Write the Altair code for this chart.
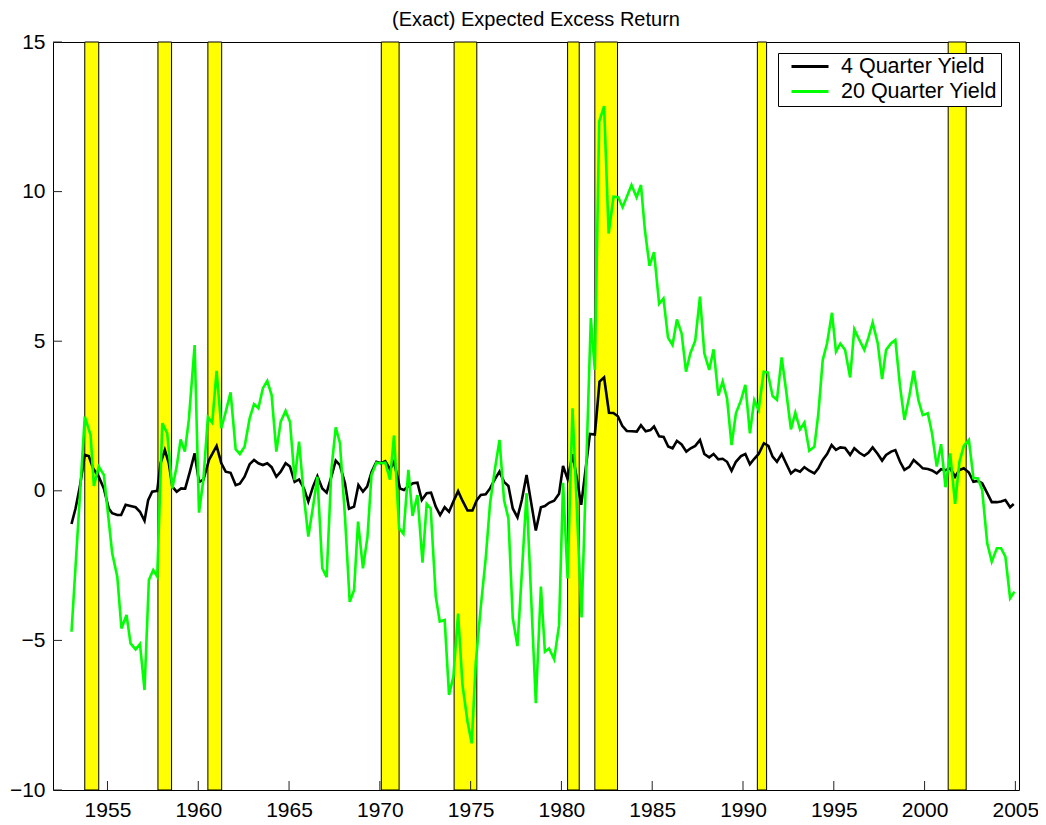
import altair as alt
import pandas as pd

# 20 quarter yield (green)
g_year = [1953.02, 1953.75, 1954.07, 1954.25, 1954.52, 1954.8, 1955.26, 1955.54, 1955.77, 1956.05,
          1956.27, 1956.55, 1956.79, 1957.04, 1957.28, 1957.52, 1957.74, 1958.02, 1958.29, 1958.57,
          1958.81, 1959.03, 1959.26, 1959.48, 1959.8, 1960.04, 1960.28, 1960.53, 1960.77, 1961.01,
          1961.27, 1961.51, 1961.78, 1962.06, 1962.29, 1962.55, 1962.83, 1963.07, 1963.31, 1963.56,
          1963.8, 1964.04, 1964.3, 1964.54, 1964.81, 1965.05, 1965.31, 1965.55, 1965.82, 1966.06,
          1966.32, 1966.56, 1966.83, 1967.07, 1967.33, 1967.57, 1967.8, 1968.08, 1968.34, 1968.58,
          1968.8, 1969.07, 1969.32, 1969.54, 1969.81, 1970.05, 1970.3, 1970.56, 1970.78, 1971.06,
          1971.3, 1971.57, 1971.8, 1972.07, 1972.35, 1972.58, 1972.8, 1973.08, 1973.3, 1973.57,
          1973.81, 1974.05, 1974.31, 1974.55, 1974.83, 1975.06, 1975.28, 1975.56, 1975.83, 1976.07,
          1976.33, 1976.59, 1976.84, 1977.08, 1977.32, 1977.58, 1978.08, 1978.59, 1978.87, 1979.09,
          1979.32, 1979.6, 1979.87, 1980.09, 1980.34, 1980.61, 1981.11, 1981.62, 1981.84, 1982.08,
          1982.35, 1982.6, 1982.87, 1983.13, 1983.37, 1983.62, 1983.86, 1984.14, 1984.38, 1984.6,
          1984.85, 1985.1, 1985.38, 1985.62, 1985.87, 1986.12, 1986.36, 1986.62, 1986.86, 1987.1,
          1987.37, 1987.63, 1987.87, 1988.14, 1988.38, 1988.64, 1988.88, 1989.12, 1989.37, 1989.61,
          1989.89, 1990.13, 1990.38, 1990.62, 1990.86, 1991.14, 1991.36, 1991.63, 1991.87, 1992.13,
          1992.37, 1992.64, 1992.88, 1993.14, 1993.38, 1993.65, 1993.93, 1994.15, 1994.39, 1994.63,
          1994.9, 1995.12, 1995.36, 1995.62, 1995.9, 1996.13, 1996.41, 1996.68, 1996.9, 1997.14,
          1997.42, 1997.66, 1997.88, 1998.16, 1998.39, 1998.65, 1998.89, 1999.16, 1999.4, 1999.66,
          1999.9, 2000.18, 2000.41, 2000.67, 2000.91, 2001.15, 2001.41, 2001.68, 2001.92, 2002.16,
          2002.44, 2002.69, 2002.93, 2003.17, 2003.45, 2003.7, 2003.98, 2004.21, 2004.45, 2004.71,
          2004.95]
g_val = [-4.71, 2.48, 1.86, 0.16, 0.81, 0.53, -2.09, -2.87, -4.6, -4.15,
         -5.1, -5.3, -5.12, -6.66, -2.98, -2.65, -2.87, 2.26, 1.92, 0.08,
         0.81, 1.72, 1.31, 2.37, 4.87, -0.73, 0.36, 2.46, 2.28, 4.01,
         2.09, 2.64, 3.29, 1.39, 1.23, 1.47, 2.42, 2.9, 2.76, 3.43,
         3.67, 3.2, 1.31, 2.31, 2.67, 2.31, 0.36, 1.64, -0.2, -1.53,
         -0.53, 0.47, -2.59, -2.89, 0.7, 2.12, 1.61, -0.87, -3.71, -3.32,
         -1.03, -2.59, -1.53, 0.53, 0.94, 0.92, 0.94, 0.37, 1.85, -1.25,
         -1.44, 0.7, -0.84, -0.14, -2.4, -0.44, -0.59, -3.54, -4.37, -4.32,
         -6.82, -6.21, -4.1, -6.49, -7.72, -8.44, -5.77, -3.87, -2.26, -0.42,
         0.7, 1.7, -0.31, -0.92, -4.26, -5.19, -0.08, -7.1, -3.2, -5.38,
         -5.27, -5.63, -4.49, 0.27, -2.93, 2.76, -4.23, 5.77, 4.04, 12.34,
         12.86, 8.6, 9.83, 9.81, 9.48, 9.85, 10.22, 9.81, 10.22, 8.7,
         7.52, 7.98, 6.25, 6.43, 5.12, 4.87, 5.73, 5.26, 3.98, 4.6,
         5.02, 6.49, 4.6, 4.04, 4.73, 3.18, 3.65, 3.09, 1.53, 2.59,
         3.03, 3.54, 1.92, 3.03, 2.7, 3.98, 3.96, 3.17, 3.04, 4.46,
         3.37, 2.05, 2.61, 2.05, 2.28, 1.34, 1.47, 2.59, 4.37, 4.93,
         5.95, 4.65, 4.92, 4.71, 3.79, 5.4, 5.04, 4.71, 5.1, 5.62,
         4.93, 3.73, 4.71, 4.93, 5.04, 3.48, 2.37, 3.17, 4.01, 3.03,
         2.53, 2.59, 1.92, 0.81, 1.56, 0.12, 1.25, -0.44, 0.97, 1.5,
         1.7, 0.42, 0.42, 0.03, -1.75, -2.37, -1.92, -1.92, -2.2, -3.59,
         -3.37]

# 4 quarter yield (black)
b_year = [1953.02, 1953.24, 1953.48, 1953.75, 1953.97, 1954.21, 1954.52, 1954.8, 1955.07, 1955.26,
          1955.54, 1955.75, 1956.0, 1956.27, 1956.55, 1956.79, 1957.04, 1957.24, 1957.46, 1957.74,
          1957.92, 1958.16, 1958.38, 1958.57, 1958.81, 1959.06, 1959.28, 1959.54, 1959.8, 1960.04,
          1960.28, 1960.59, 1961.01, 1961.27, 1961.51, 1961.78, 1962.06, 1962.29, 1962.55, 1962.83,
          1963.07, 1963.31, 1963.56, 1963.8, 1964.04, 1964.3, 1964.54, 1964.81, 1965.05, 1965.31,
          1965.55, 1965.82, 1966.06, 1966.32, 1966.56, 1966.83, 1967.07, 1967.33, 1967.57, 1967.8,
          1968.08, 1968.3, 1968.58, 1968.82, 1969.07, 1969.3, 1969.55, 1969.81, 1970.07, 1970.3,
          1970.56, 1970.78, 1971.11, 1971.33, 1971.57, 1971.82, 1972.07, 1972.31, 1972.58, 1972.82,
          1973.08, 1973.32, 1973.57, 1973.81, 1974.05, 1974.31, 1974.55, 1974.83, 1975.1, 1975.34,
          1975.56, 1975.83, 1976.07, 1976.33, 1976.59, 1976.84, 1977.08, 1977.32, 1977.58, 1977.82,
          1978.08, 1978.34, 1978.59, 1978.87, 1979.09, 1979.32, 1979.6, 1979.87, 1980.09, 1980.34,
          1980.62, 1981.09, 1981.57, 1981.84, 1982.1, 1982.35, 1982.62, 1982.86, 1983.11, 1983.35,
          1983.6, 1983.88, 1984.15, 1984.38, 1984.64, 1984.9, 1985.1, 1985.38, 1985.63, 1985.88,
          1986.12, 1986.36, 1986.62, 1986.88, 1987.12, 1987.37, 1987.63, 1987.87, 1988.14, 1988.38,
          1988.64, 1988.88, 1989.12, 1989.37, 1989.61, 1989.89, 1990.13, 1990.38, 1990.62, 1990.86,
          1991.15, 1991.4, 1991.63, 1991.87, 1992.13, 1992.37, 1992.64, 1992.88, 1993.14, 1993.38,
          1993.65, 1993.93, 1994.15, 1994.39, 1994.63, 1994.88, 1995.12, 1995.36, 1995.62, 1995.9,
          1996.13, 1996.41, 1996.68, 1996.9, 1997.14, 1997.42, 1997.66, 1997.88, 1998.16, 1998.39,
          1998.65, 1998.89, 1999.16, 1999.4, 1999.66, 1999.9, 2000.18, 2000.41, 2000.67, 2000.91,
          2001.15, 2001.41, 2001.68, 2001.92, 2002.16, 2002.44, 2002.69, 2002.93, 2003.17, 2003.45,
          2003.7, 2003.98, 2004.21, 2004.45, 2004.71, 2004.91]
b_val = [-1.11, -0.59, 0.14, 1.2, 1.16, 0.75, 0.47, 0.08, -0.59, -0.75,
         -0.81, -0.81, -0.47, -0.51, -0.55, -0.7, -1.0, -0.31, -0.03, 0.0,
         0.92, 1.36, 0.92, 0.14, -0.03, 0.08, 0.07, 0.64, 1.25, 0.3,
         0.36, 1.03, 1.5, 0.92, 0.64, 0.6, 0.19, 0.24, 0.47, 0.89,
         1.03, 0.92, 0.86, 0.92, 0.79, 0.47, 0.64, 0.92, 0.81, 0.3,
         0.38, 0.08, -0.36, 0.14, 0.49, 0.08, -0.06, 0.47, 1.01, 0.86,
         0.25, -0.6, -0.53, 0.19, -0.03, 0.14, 0.64, 0.97, 0.92, 0.99,
         0.72, 0.97, 0.08, 0.03, 0.16, 0.25, 0.27, -0.31, -0.08, -0.06,
         -0.53, -0.81, -0.55, -0.7, -0.36, -0.01, -0.33, -0.66, -0.66, -0.31,
         -0.14, -0.12, 0.08, 0.38, 0.64, 0.3, 0.16, -0.59, -0.89, -0.31,
         0.53, -0.42, -1.33, -0.55, -0.51, -0.4, -0.33, -0.1, 0.83, 0.4,
         1.22, -0.47, 1.9, 1.88, 3.65, 3.79, 2.61, 2.6, 2.49, 2.17,
         2.0, 1.99, 1.98, 2.19, 1.99, 2.03, 2.15, 1.82, 1.8, 1.48,
         1.42, 1.67, 1.55, 1.31, 1.42, 1.5, 1.7, 1.23, 1.12, 1.23,
         1.05, 1.07, 0.97, 0.67, 0.97, 1.16, 1.23, 0.89, 1.07, 1.23,
         1.59, 1.5, 1.14, 0.97, 1.23, 0.92, 0.58, 0.7, 0.64, 0.79,
         0.67, 0.58, 0.75, 1.03, 1.23, 1.53, 1.37, 1.45, 1.43, 1.2,
         1.42, 1.27, 1.17, 1.27, 1.45, 1.23, 1.01, 1.2, 1.31, 1.36,
         0.97, 0.7, 0.8, 1.03, 0.89, 0.75, 0.73, 0.68, 0.58, 0.72,
         0.69, 0.75, 0.47, 0.69, 0.75, 0.61, 0.3, 0.33, 0.25, -0.08,
         -0.38, -0.38, -0.36, -0.31, -0.55, -0.44]

# recession bands
rec_start = [1953.75, 1957.78, 1960.53, 1970.08, 1974.09, 1980.34, 1981.84, 1990.79, 2001.3]
rec_end = [1954.52, 1958.53, 1961.29, 1971.06, 1975.34, 1980.98, 1983.09, 1991.3, 2002.29]

x_ticks = [1955, 1960, 1965, 1970, 1975, 1980, 1985, 1990, 1995, 2000, 2005]
y_ticks = [-10, -5, 0, 5, 10, 15]
series_names = ["4 Quarter Yield", "20 Quarter Yield"]
series_colors = ["#000000", "#00ff00"]

FONT = "Liberation Sans"
W, H = 966, 748

xs = alt.Scale(domain=[1952, 2005.2], nice=False, zero=False)
ys = alt.Scale(domain=[-10, 15], nice=False, zero=False)
cs = alt.Scale(domain=series_names, range=series_colors)

x_axis = alt.Axis(values=x_ticks, format="d", title=None, ticks=False, domain=False, grid=False,
                  labelFontSize=21, labelFont=FONT, labelColor="black", labelPadding=9,
                  labelFlush=False, labelOverlap=False)
y_axis = alt.Axis(values=y_ticks, title=None, ticks=False, domain=False, grid=False,
                  labelFontSize=21, labelFont=FONT, labelColor="black", labelPadding=8,
                  labelFlush=False, labelOverlap=False)

legend = alt.Legend(orient="none", legendX=725, legendY=11, symbolType="stroke",
                    symbolSize=1369, symbolStrokeWidth=3, clipHeight=19,
                    labelFontSize=21.5, labelFont=FONT, labelColor="black",
                    padding=4, strokeColor="black", fillColor="white",
                    rowPadding=3, symbolOffset=8, labelOffset=11, labelLimit=400, cornerRadius=0)

rec_df = pd.DataFrame({"start": rec_start, "end": rec_end})
df_b = pd.DataFrame({"year": b_year, "value": b_val, "series": series_names[0]})
df_g = pd.DataFrame({"year": g_year, "value": g_val, "series": series_names[1]})
xt_df = pd.DataFrame({"t": x_ticks})
yt_df = pd.DataFrame({"t": y_ticks})

bars = alt.Chart(rec_df).mark_rect(fill="#ffff00", stroke="black", strokeWidth=1).encode(
    x=alt.X("start:Q", scale=xs, axis=x_axis),
    x2="end:Q",
    y=alt.value(0),
    y2=alt.value(H),
)

def line_layer(df):
    return alt.Chart(df).mark_line(strokeWidth=2.6, clip=True).encode(
        x=alt.X("year:Q", scale=xs, axis=x_axis),
        y=alt.Y("value:Q", scale=ys, axis=y_axis),
        color=alt.Color("series:N", scale=cs, legend=legend, title=None),
        order="year:Q",
    )

black_line = line_layer(df_b)
green_line = line_layer(df_g)

xt = alt.Chart(xt_df).mark_tick(
    orient="vertical", size=9, thickness=1, color="#222222", opacity=1).encode(
    x=alt.X("t:Q", scale=xs, axis=x_axis),
    y=alt.value(H - 4.5),
)
yt = alt.Chart(yt_df).mark_tick(
    orient="horizontal", size=9, thickness=1, color="#222222", opacity=1).encode(
    y=alt.Y("t:Q", scale=ys, axis=y_axis),
    x=alt.value(4.5),
)

chart = alt.layer(bars, black_line, green_line, xt, yt).properties(
    width=W,
    height=H,
    title=alt.TitleParams("(Exact) Expected Excess Return", fontSize=20, font=FONT,
                          fontWeight="normal", color="black", anchor="middle", offset=1),
    autosize=alt.AutoSizeParams(type="none"),
    padding={"left": 45, "top": 34, "right": 19, "bottom": 31},
    background="white",
).configure_view(stroke="black", strokeWidth=1)

chart.save("out.html", embed_options={"renderer": "svg", "actions": False})
